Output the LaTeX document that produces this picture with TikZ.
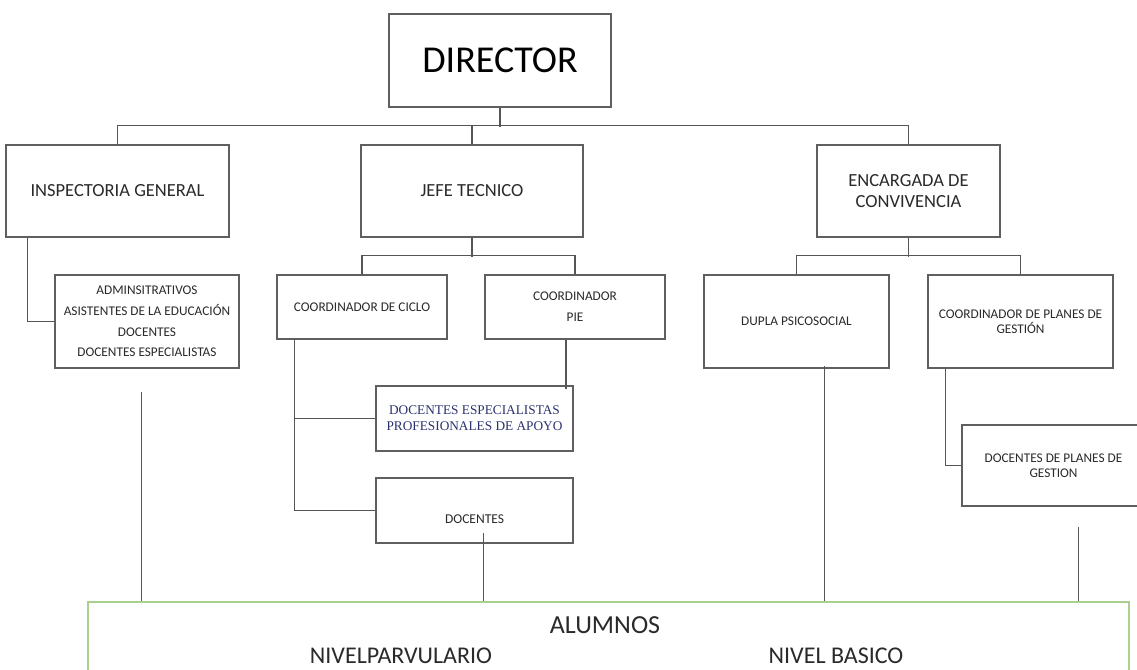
\documentclass[tikz,border=0pt]{standalone}
\usepackage{fontspec}
\setmainfont{Carlito}
\newfontfamily\serifface{Liberation Serif}
\definecolor{boxgray}{HTML}{5F5F5F}
\definecolor{linegray}{HTML}{555555}
\definecolor{txt}{HTML}{2A2A2A}
\definecolor{navytxt}{HTML}{2B3170}
\definecolor{alumgreen}{HTML}{A9D08E}
\begin{document}
\begin{tikzpicture}[x=1pt,y=-1pt,
  box/.style={draw=boxgray, line width=1.4pt, fill=white, inner sep=0pt, align=center, text=txt},
  ln/.style={draw=linegray, line width=1.4pt},
  thinln/.style={draw=linegray, line width=1pt},
  big/.style={font=\fontsize{38}{44}\selectfont},
  mid/.style={font=\fontsize{18.5}{21}\selectfont},
  small/.style={font=\fontsize{13.3}{20.7}\selectfont}]
\useasboundingbox (0,0) rectangle (1137,669);
\fill[white] (0,0) rectangle (1137,669);

% ALUMNOS box
\node[draw=alumgreen, line width=1.3pt, minimum width=1041pt, minimum height=98pt, inner sep=0pt] (alum) at (608.5,651) {};
\node[font=\fontsize{26}{30}\selectfont, text=txt] (alumt) at (605,625) {ALUMNOS};
\node[font=\fontsize{24}{28}\selectfont, text=txt] (parv) at (401,656) {NIVELPARVULARIO};
\node[font=\fontsize{24}{28}\selectfont, text=txt] (basico) at (836,656) {NIVEL BASICO};

% Top level
\node[box, big, text=black, minimum width=222pt, minimum height=93pt] (dir) at (500,60.5) {DIRECTOR};
\node[box, mid, minimum width=223pt, minimum height=92pt] (insp) at (117.5,191) {INSPECTORIA GENERAL};
\node[box, mid, minimum width=222pt, minimum height=92pt] (jefe) at (472,191) {JEFE TECNICO};
\node[box, mid, minimum width=183pt, minimum height=92pt] (enc) at (908.5,191) {ENCARGADA DE\\CONVIVENCIA};

% Second level
\node[box, small, minimum width=184pt, minimum height=93pt] (admin) at (147,321.5)
  {ADMINSITRATIVOS\\ASISTENTES DE LA EDUCACIÓN\\DOCENTES\\DOCENTES ESPECIALISTAS};
\node[box, small, minimum width=170pt, minimum height=64pt] (ciclo) at (362,307) {COORDINADOR DE CICLO};
\node[box, small, minimum width=180pt, minimum height=64pt] (pie) at (575,307) {COORDINADOR\\PIE};
\node[box, font=\serifface\fontsize{13.3}{16}\selectfont, text=navytxt, minimum width=197pt, minimum height=65pt] (docesp) at (474.5,418.5)
  {DOCENTES ESPECIALISTAS\\PROFESIONALES DE APOYO};
\node[box, minimum width=197pt, minimum height=65pt,
  label={[font=\fontsize{13.5}{16}\selectfont, text=txt, yshift=-8.5pt]center:DOCENTES}] (docentes) at (474.5,510.5) {};
\node[box, small, minimum width=185pt, minimum height=93pt] (dupla) at (796.5,321.5) {DUPLA PSICOSOCIAL};
\node[box, font=\fontsize{13.3}{15}\selectfont, minimum width=185pt, minimum height=93pt] (planes) at (1020.5,321.5)
  {COORDINADOR DE PLANES DE\\GESTIÓN};
\node[box, font=\fontsize{13.3}{15}\selectfont, minimum width=183pt, minimum height=81pt] (docplanes) at (1053.5,465.5)
  {DOCENTES DE PLANES DE\\GESTION};

% Connectors
\draw[ln] (dir.south) -- ++(0,19);
\draw[ln] (insp.north) -- ++(0,-19) -| (enc.north);
\draw[ln] (jefe.north) -- ++(0,-19);
\draw[ln] (jefe.south) -- ++(0,19);
\draw[ln] (ciclo.north) -- ++(0,-19) -| (pie.north);
\draw[ln] (enc.south) -- ++(0,19);
\draw[ln] (dupla.north) -- ++(0,-19) -| (planes.north);
\draw[ln] ([xshift=22pt]insp.south west) |- (admin.west);
\draw[ln] ([xshift=18pt]ciclo.south west) |- (docesp.west);
\draw[ln] ([xshift=18pt]ciclo.south west) |- (docentes.west);
\draw[ln] ([xshift=-9pt]pie.south) -- ([xshift=-9pt,yshift=-4pt]pie.south |- docesp.north);
\draw[ln] ([xshift=18pt]planes.south west) |- (docplanes.west);

% Stems to ALUMNOS
\coordinate (s1) at (141,392);
\coordinate (s2) at (483,533);
\coordinate (s3) at (824,366);
\coordinate (s4) at (1078.5,527);
\draw[thinln] (s1) -- (s1 |- alum.north);
\draw[thinln] (s2) -- (s2 |- alum.north);
\draw[thinln] (s3) -- (s3 |- alum.north);
\draw[thinln] (s4) -- (s4 |- alum.north);
\end{tikzpicture}
\end{document}
